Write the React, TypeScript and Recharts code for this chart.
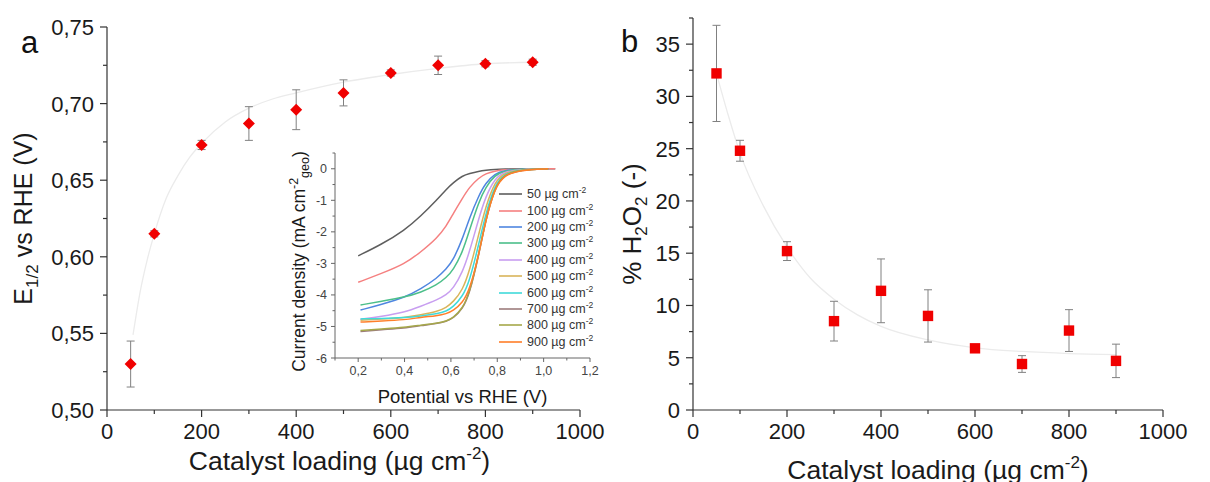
import React from 'react';
import {
  ComposedChart, LineChart, Line, Scatter, XAxis, YAxis, ErrorBar, Label, Legend,
} from 'recharts';

// ---------- Panel a: E1/2 vs catalyst loading ----------
const loadings = [50, 100, 200, 300, 400, 500, 600, 700, 800, 900];
const e12Values = [0.530, 0.615, 0.673, 0.687, 0.696, 0.707, 0.720, 0.725, 0.726, 0.727];
const e12Errors = [0.015, 0.002, 0.003, 0.011, 0.013, 0.0085, 0.002, 0.006, 0.002, 0.002];
const e12FitX = [55, 70, 85, 100, 125, 150, 175, 200, 250, 300, 350, 400, 500, 600, 700, 800, 900];
const e12FitY = [0.549, 0.577, 0.598, 0.615, 0.638, 0.653, 0.665, 0.674, 0.688, 0.697, 0.703, 0.707, 0.714, 0.719, 0.723, 0.726, 0.727];

// ---------- Panel b: % H2O2 vs catalyst loading ----------
const h2o2Values = [32.2, 24.8, 15.2, 8.5, 11.4, 9.0, 5.9, 4.4, 7.6, 4.7];
const h2o2Errors = [4.6, 1.0, 0.9, 1.9, 3.05, 2.5, 0.15, 0.8, 2.0, 1.6];
const h2o2FitX = [50, 75, 100, 150, 200, 250, 300, 350, 400, 500, 600, 700, 800, 900];
const h2o2FitY = [32.2, 28.2, 24.6, 19.5, 15.6, 12.6, 10.6, 9.1, 8.0, 6.7, 5.95, 5.6, 5.4, 5.3];

// ---------- Inset: LSV curves ----------
const potentialA = [0.2, 0.3, 0.4, 0.47, 0.54, 0.58, 0.61, 0.65, 0.68, 0.72, 0.75, 0.79, 0.83, 0.9, 1.05];
const potentialB = [0.21, 0.3, 0.4, 0.47, 0.54, 0.58, 0.61, 0.65, 0.68, 0.72, 0.75, 0.79, 0.83, 0.9, 1.02];
const j50 = [-2.76, -2.40, -1.95, -1.50, -0.98, -0.65, -0.44, -0.22, -0.15, -0.08, -0.05, -0.02, -0.01, 0, 0];
const j100 = [-3.60, -3.32, -3.02, -2.64, -2.20, -1.82, -1.42, -0.93, -0.58, -0.29, -0.15, -0.07, -0.03, -0.01, 0];
const j200 = [-4.48, -4.30, -4.08, -3.81, -3.47, -3.18, -2.90, -2.22, -1.56, -0.85, -0.45, -0.15, -0.05, -0.01, 0];
const j300 = [-4.32, -4.20, -4.07, -3.92, -3.68, -3.45, -3.21, -2.65, -1.95, -1.05, -0.58, -0.20, -0.07, -0.01, 0];
const j400 = [-4.77, -4.68, -4.55, -4.36, -4.16, -4.00, -3.80, -3.28, -2.64, -1.58, -0.88, -0.30, -0.10, -0.02, 0];
const j500 = [-4.80, -4.77, -4.72, -4.63, -4.53, -4.40, -4.22, -3.85, -3.25, -2.08, -1.20, -0.40, -0.13, -0.02, 0];
const j600 = [-4.76, -4.75, -4.72, -4.67, -4.60, -4.52, -4.38, -4.05, -3.58, -2.40, -1.42, -0.50, -0.16, -0.03, 0];
const j700 = [-5.16, -5.10, -5.05, -4.97, -4.91, -4.84, -4.74, -4.45, -3.98, -2.75, -1.62, -0.58, -0.19, -0.03, 0];
const j800 = [-5.13, -5.08, -5.03, -4.96, -4.90, -4.83, -4.73, -4.43, -3.95, -2.72, -1.60, -0.57, -0.18, -0.03, 0];
const j900 = [-4.86, -4.83, -4.79, -4.71, -4.66, -4.60, -4.50, -4.25, -3.85, -2.75, -1.62, -0.60, -0.20, -0.04, 0];
const curveLoadings = [50, 100, 200, 300, 400, 500, 600, 700, 800, 900];
const curveColors = ['#5e5e5e', '#f58080', '#4f86e0', '#4cbf8a', '#c89ef0', '#d9b45a', '#3fdada', '#9c7c7c', '#a5a84a', '#ff7f2a'];

// ---------- Tick label lists ----------
const loadingMajor = [0, 200, 400, 600, 800, 1000];
const loadingMinor = [100, 300, 500, 700, 900];
const e12Major = [0.5, 0.55, 0.6, 0.65, 0.7, 0.75];
const e12Minor = [0.525, 0.575, 0.625, 0.675, 0.725];
const h2o2Major = [0, 5, 10, 15, 20, 25, 30, 35];
const h2o2Minor = [2.5, 7.5, 12.5, 17.5, 22.5, 27.5, 32.5, 37.5];
const insetXMajor = [0.2, 0.4, 0.6, 0.8, 1.0, 1.2];
const insetXMinor = [0.1, 0.3, 0.5, 0.7, 0.9, 1.1];
const insetYMajor = [-6, -5, -4, -3, -2, -1, 0];
const insetYMinor = [-5.5, -4.5, -3.5, -2.5, -1.5, -0.5, 0.5];

const FONT = '"Liberation Sans", Arial, "DejaVu Sans", sans-serif';

const e12Points = loadings.map((x, i) => ({ x, y: e12Values[i], err: e12Errors[i] }));
const e12Fit = e12FitX.map((x, i) => ({ x, y: e12FitY[i] }));
const h2o2Points = loadings.map((x, i) => ({ x, y: h2o2Values[i], err: h2o2Errors[i] }));
const h2o2Fit = h2o2FitX.map((x, i) => ({ x, y: h2o2FitY[i] }));
const currents = [j50, j100, j200, j300, j400, j500, j600, j700, j800, j900];
const curves = currents.map((arr, k) => {
  const grid = k < 2 ? potentialA : potentialB;
  return arr.map((j, i) => ({ v: grid[i], j }));
});

type TickOpts = {
  orient: 'bottom' | 'left';
  majors: number[];
  fmt: (v: number) => string;
  len: number;
  minorLen: number;
  gap: number;
  fontSize: number;
  color: string;
  lineColor: string;
  lineWidth: number;
};

function makeTick(o: TickOpts) {
  return (props: any) => {
    const { x, y, payload } = props;
    const v = payload.value;
    const isMajor = o.majors.some((m) => Math.abs(m - v) < 1e-9);
    const L = isMajor ? o.len : o.minorLen;
    if (o.orient === 'bottom') {
      return (
        <g>
          <line x1={x} y1={y} x2={x} y2={y + L} stroke={o.lineColor} strokeWidth={o.lineWidth} />
          {isMajor && (
            <text x={x} y={y + o.len + o.gap + o.fontSize * 0.72} textAnchor="middle"
              fontSize={o.fontSize} fill={o.color} fontFamily={FONT}>{o.fmt(v)}</text>
          )}
        </g>
      );
    }
    return (
      <g>
        <line x1={x} y1={y} x2={x - L} y2={y} stroke={o.lineColor} strokeWidth={o.lineWidth} />
        {isMajor && (
          <text x={x - o.len - o.gap} y={y + o.fontSize * 0.36} textAnchor="end"
            fontSize={o.fontSize} fill={o.color} fontFamily={FONT}>{o.fmt(v)}</text>
        )}
      </g>
    );
  };
}

const mainTick = { len: 7, minorLen: 4, gap: 6, fontSize: 22, color: '#1a1a1a', lineColor: '#333', lineWidth: 1.2 };
const insetTick = { len: 4, minorLen: 2.5, gap: 4, fontSize: 12.5, color: '#444', lineColor: '#666', lineWidth: 1 };

const comma = (d: number) => (v: number) => v.toFixed(d).replace('.', ',');

const Diamond = (props: any) => {
  const { cx, cy } = props;
  const r = 6;
  return <polygon points={`${cx},${cy - r} ${cx + r},${cy} ${cx},${cy + r} ${cx - r},${cy}`} fill="#f00000" />;
};
const Square = (props: any) => {
  const { cx, cy } = props;
  const h = 5.2;
  return <rect x={cx - h} y={cy - h} width={2 * h} height={2 * h} fill="#f00000" />;
};

const loadingTitle = (baselineOffset: number, cxShift: number) => (props: any) => {
  const vb = props.viewBox;
  const cx = vb.x + vb.width / 2 + cxShift;
  const y = vb.y + baselineOffset;
  return (
    <text x={cx} y={y} textAnchor="middle" fontSize={26.5} fill="#1a1a1a" fontFamily={FONT}>
      Catalyst loading (µg cm<tspan dy={-11} fontSize={17}>-2</tspan><tspan dy={11}>)</tspan>
    </text>
  );
};

const e12Title = (props: any) => {
  const vb = props.viewBox;
  const x = vb.x + vb.width - 75;
  const y = vb.y + vb.height / 2;
  return (
    <text x={x} y={y} transform={`rotate(-90, ${x}, ${y})`} textAnchor="middle" fontSize={25} fill="#1a1a1a" fontFamily={FONT}>
      E<tspan dy={6} fontSize={17}>1/2</tspan><tspan dy={-6}> vs RHE (V)</tspan>
    </text>
  );
};

const h2o2Title = (props: any) => {
  const vb = props.viewBox;
  const x = vb.x + vb.width - 52;
  const y = vb.y + vb.height / 2 + 10;
  return (
    <text x={x} y={y} transform={`rotate(-90, ${x}, ${y})`} textAnchor="middle" fontSize={26} fill="#1a1a1a" fontFamily={FONT}>
      % H<tspan dy={6} fontSize={17}>2</tspan><tspan dy={-6}>O</tspan><tspan dy={6} fontSize={17}>2</tspan><tspan dy={-6}> (-)</tspan>
    </text>
  );
};

const insetYTitle = (props: any) => {
  const vb = props.viewBox;
  const x = vb.x + vb.width - 30;
  const y = vb.y + vb.height / 2 + 6;
  return (
    <text x={x} y={y} transform={`rotate(-90, ${x}, ${y})`} textAnchor="middle" fontSize={17.5} fill="#1a1a1a" fontFamily={FONT}>
      Current density (mA cm<tspan dy={-7} fontSize={12.5}>-2</tspan><tspan dy={11} fontSize={12.5}>geo</tspan><tspan dy={-4}>)</tspan>
    </text>
  );
};

const insetXTitle = (props: any) => {
  const vb = props.viewBox;
  const cx = vb.x + vb.width / 2;
  const y = vb.y + 45;
  return (
    <text x={cx} y={y} textAnchor="middle" fontSize={18.5} fill="#1a1a1a" fontFamily={FONT}>
      Potential vs RHE (V)
    </text>
  );
};

const InsetLegend = () => (
  <div style={{ fontFamily: FONT, fontSize: 12.5, color: '#333' }}>
    {curveLoadings.map((l, i) => (
      <div key={l} style={{ display: 'flex', alignItems: 'center', height: 16.4 }}>
        <svg width={23} height={4} style={{ marginRight: 5 }}>
          <line x1={0} y1={2} x2={23} y2={2} stroke={curveColors[i]} strokeWidth={1.6} />
        </svg>
        <span style={{ whiteSpace: 'nowrap' }}>
          {l} µg cm<sup style={{ fontSize: 8.5, verticalAlign: 'super', lineHeight: 0 }}>-2</sup>
        </span>
      </div>
    ))}
  </div>
);

export default function App() {
  return (
    <div style={{ position: 'absolute', left: 0, top: 0, width: 1210, height: 482, background: '#fff', overflow: 'hidden', fontFamily: FONT }}>
      {/* Panel a */}
      <div style={{ position: 'absolute', left: 0, top: 0 }}>
        <ComposedChart width={640} height={482} margin={{ top: 27, right: 60, bottom: 32, left: 47 }}>
          <XAxis type="number" dataKey="x" domain={[0, 1000]} ticks={[...loadingMajor, ...loadingMinor]} interval={0}
            tickSize={0} tickMargin={0} tickLine={false} height={40} stroke="#333" strokeWidth={1.2}
            tick={makeTick({ orient: 'bottom', majors: loadingMajor, fmt: (v) => String(v), ...mainTick })}>
            <Label content={loadingTitle(60, -4)} />
          </XAxis>
          <YAxis type="number" dataKey="y" domain={[0.5, 0.75]} ticks={[...e12Major, ...e12Minor]} interval={0}
            allowDataOverflow tickSize={0} tickMargin={0} tickLine={false} width={60} stroke="#333" strokeWidth={1.2}
            tick={makeTick({ orient: 'left', majors: e12Major, fmt: comma(2), ...mainTick })}>
            <Label content={e12Title} />
          </YAxis>
          <Line data={e12Fit} dataKey="y" type="monotone" stroke="#ebebeb" strokeWidth={1.3} dot={false} isAnimationActive={false} />
          <Scatter data={e12Points} shape={Diamond} isAnimationActive={false}>
            <ErrorBar dataKey="err" direction="y" width={4} stroke="#808080" strokeWidth={1} />
          </Scatter>
        </ComposedChart>
      </div>

      {/* Panel b */}
      <div style={{ position: 'absolute', left: 600, top: 0 }}>
        <ComposedChart width={610} height={482} margin={{ top: 18, right: 47, bottom: 32, left: 33 }}>
          <XAxis type="number" dataKey="x" domain={[0, 1000]} ticks={[...loadingMajor, ...loadingMinor]} interval={0}
            tickSize={0} tickMargin={0} tickLine={false} height={40} stroke="#333" strokeWidth={1.2}
            tick={makeTick({ orient: 'bottom', majors: loadingMajor, fmt: (v) => String(v), ...mainTick })}>
            <Label content={loadingTitle(69, 10)} />
          </XAxis>
          <YAxis type="number" dataKey="y" domain={[0, 37.5]} ticks={[...h2o2Major, ...h2o2Minor]} interval={0}
            allowDataOverflow tickSize={0} tickMargin={0} tickLine={false} width={60} stroke="#333" strokeWidth={1.2}
            tick={makeTick({ orient: 'left', majors: h2o2Major, fmt: (v) => String(v), ...mainTick })}>
            <Label content={h2o2Title} />
          </YAxis>
          <Line data={h2o2Fit} dataKey="y" type="monotone" stroke="#ebebeb" strokeWidth={1.3} dot={false} isAnimationActive={false} />
          <Scatter data={h2o2Points} shape={Square} isAnimationActive={false}>
            <ErrorBar dataKey="err" direction="y" width={4} stroke="#808080" strokeWidth={1} />
          </Scatter>
        </ComposedChart>
      </div>

      {/* Inset */}
      <div style={{ position: 'absolute', left: 280, top: 140 }}>
        <LineChart width={320} height={280} margin={{ top: 13, right: 10, bottom: 32, left: 15 }}>
          <XAxis type="number" dataKey="v" domain={[0.1, 1.2]} allowDataOverflow ticks={[...insetXMajor, ...insetXMinor]} interval={0}
            tickSize={0} tickMargin={0} tickLine={false} height={30} stroke="#666"
            tick={makeTick({ orient: 'bottom', majors: insetXMajor, fmt: comma(1), ...insetTick })}>
            <Label content={insetXTitle} />
          </XAxis>
          <YAxis type="number" dataKey="j" domain={[-6, 0.5]} allowDataOverflow ticks={[...insetYMajor, ...insetYMinor]} interval={0}
            tickSize={0} tickMargin={0} tickLine={false} width={40} stroke="#666"
            tick={makeTick({ orient: 'left', majors: insetYMajor, fmt: (v) => String(v), ...insetTick })}>
            <Label content={insetYTitle} />
          </YAxis>
          {curves.map((c, i) => (
            <Line key={curveLoadings[i]} data={c} dataKey="j" name={`${curveLoadings[i]}`} type="basis"
              stroke={curveColors[i]} strokeWidth={1.5} dot={false} isAnimationActive={false} />
          ))}
          <Legend layout="vertical" align="center" verticalAlign="middle" content={InsetLegend}
            wrapperStyle={{ left: 219, top: 46, width: 110 }} />
        </LineChart>
      </div>

      {/* Panel letters */}
      <svg width={1210} height={482} style={{ position: 'absolute', left: 0, top: 0, pointerEvents: 'none' }}>
        <text x={21} y={53} fontSize={31} fill="#111" fontFamily={FONT}>a</text>
        <text x={621} y={52} fontSize={31} fill="#111" fontFamily={FONT}>b</text>
      </svg>
    </div>
  );
}
